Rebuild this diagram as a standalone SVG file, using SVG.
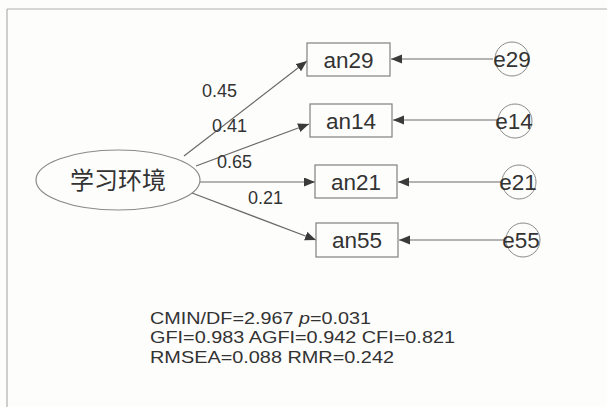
<svg xmlns="http://www.w3.org/2000/svg" width="607" height="407" viewBox="0 0 607 407">
<style>
.t{font-family:"Liberation Sans",Arial,sans-serif;fill:#333}
.box{fill:none;stroke:#808080;stroke-width:1.2}
.circ{fill:none;stroke:#8a8a8a;stroke-width:1}
.edge{stroke:#6a6a6a;stroke-width:1.2;fill:none;marker-end:url(#ah)}
.lbl{font-size:18px}
.nt{font-size:22.5px;text-anchor:middle}
.fit{font-size:17px}
</style>
<defs>
<marker id="ah" markerUnits="userSpaceOnUse" markerWidth="12" markerHeight="10" refX="11" refY="4.5" orient="auto">
<path d="M0,0 L11,4.5 L0,9 Z" fill="#3a3a3a"/>
</marker>
</defs>
<rect width="607" height="407" fill="#fdfdfc"/>
<g id="frame" stroke="#b0b0b0" stroke-width="1.2">
<line x1="7" y1="9" x2="607" y2="9"/>
<line x1="7" y1="9" x2="7" y2="407"/>
</g>
<g id="connectors">
<line class="edge" x1="184" y1="156" x2="307" y2="61"/>
<line class="edge" x1="196" y1="166" x2="309" y2="124"/>
<line class="edge" x1="200" y1="182" x2="315" y2="182"/>
<line class="edge" x1="192" y1="193" x2="316" y2="240"/>
<line class="edge" x1="493" y1="59" x2="391" y2="59"/>
<line class="edge" x1="497" y1="120" x2="393" y2="120"/>
<line class="edge" x1="502" y1="182" x2="398" y2="182"/>
<line class="edge" x1="504" y1="240" x2="399" y2="240"/>
</g>
<g id="labels" class="t lbl">
<text x="202" y="97">0.45</text>
<text x="212" y="132">0.41</text>
<text x="217" y="168">0.65</text>
<text x="248" y="204">0.21</text>
</g>
<g id="xuexihuanjing">
<ellipse cx="118" cy="180" rx="82" ry="30" fill="none" stroke="#8a8a8a" stroke-width="1.2"/>
<text x="118" y="189" text-anchor="middle" style="font-family:'Noto Sans CJK SC',sans-serif;font-size:24px;fill:#333">学习环境</text>
</g>
<g id="an29"><rect class="box" x="307" y="43" width="83" height="33"/><text class="t nt" x="348.5" y="67.5">an29</text></g>
<g id="an14"><rect class="box" x="310" y="104" width="82" height="33"/><text class="t nt" x="351" y="128.5">an14</text></g>
<g id="an21"><rect class="box" x="315" y="165" width="82" height="33"/><text class="t nt" x="356" y="189.5">an21</text></g>
<g id="an55"><rect class="box" x="316" y="223" width="82" height="34"/><text class="t nt" x="357" y="248">an55</text></g>
<g id="e29"><circle class="circ" cx="512" cy="59" r="17"/><text class="t nt" x="512" y="67">e29</text></g>
<g id="e14"><circle class="circ" cx="515" cy="121" r="17"/><text class="t nt" x="514" y="129">e14</text></g>
<g id="e21"><circle class="circ" cx="519" cy="182" r="17"/><text class="t nt" x="518" y="190">e21</text></g>
<g id="e55"><circle class="circ" cx="523" cy="240" r="17"/><text class="t nt" x="521" y="248">e55</text></g>
<g id="fit" class="t fit">
<text x="150" y="324" textLength="221" lengthAdjust="spacingAndGlyphs">CMIN/DF=2.967 <tspan font-style="italic">p</tspan>=0.031</text>
<text x="150" y="343" textLength="305" lengthAdjust="spacingAndGlyphs">GFI=0.983 AGFI=0.942 CFI=0.821</text>
<text x="150" y="363" textLength="244" lengthAdjust="spacingAndGlyphs">RMSEA=0.088 RMR=0.242</text>
</g>
</svg>
